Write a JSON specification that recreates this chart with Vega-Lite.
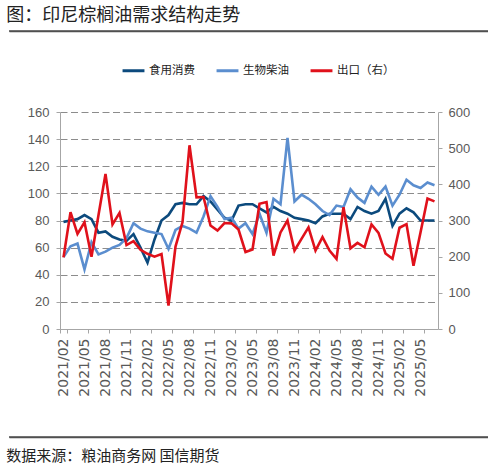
{
  "$schema": "https://vega.github.io/schema/vega-lite/v6.json",
  "background": "white",
  "padding": {"left": 5, "top": 6, "right": 3, "bottom": 0},
  "datasets": {
    "palm": [
      {"date": "2021/02", "食用消费": 79, "生物柴油": 53, "出口": 198},
      {"date": "2021/03", "食用消费": 80, "生物柴油": 61, "出口": 323},
      {"date": "2021/04", "食用消费": 81, "生物柴油": 63, "出口": 263},
      {"date": "2021/05", "食用消费": 84, "生物柴油": 44, "出口": 295},
      {"date": "2021/06", "食用消费": 81, "生物柴油": 64, "出口": 200},
      {"date": "2021/07", "食用消费": 71, "生物柴油": 55, "出口": 315},
      {"date": "2021/08", "食用消费": 72, "生物柴油": 57, "出口": 429},
      {"date": "2021/09", "食用消费": 68, "生物柴油": 60, "出口": 289},
      {"date": "2021/10", "食用消费": 66, "生物柴油": 62, "出口": 321},
      {"date": "2021/11", "食用消费": 65, "生物柴油": 67, "出口": 232},
      {"date": "2021/12", "食用消费": 70, "生物柴油": 78, "出口": 243},
      {"date": "2022/01", "食用消费": 60, "生物柴油": 74, "出口": 219},
      {"date": "2022/02", "食用消费": 49, "生物柴油": 72, "出口": 208},
      {"date": "2022/03", "食用消费": 66, "生物柴油": 71, "出口": 200},
      {"date": "2022/04", "食用消费": 80, "生物柴油": 70, "出口": 207},
      {"date": "2022/05", "食用消费": 84, "生物柴油": 59, "出口": 65},
      {"date": "2022/06", "食用消费": 92, "生物柴油": 73, "出口": 228},
      {"date": "2022/07", "食用消费": 93, "生物柴油": 76, "出口": 295},
      {"date": "2022/08", "食用消费": 92, "生物柴油": 74, "出口": 508},
      {"date": "2022/09", "食用消费": 92, "生物柴油": 71, "出口": 364},
      {"date": "2022/10", "食用消费": 98, "生物柴油": 83, "出口": 365},
      {"date": "2022/11", "食用消费": 94, "生物柴油": 98, "出口": 286},
      {"date": "2022/12", "食用消费": 88, "生物柴油": 90, "出口": 272},
      {"date": "2023/01", "食用消费": 82, "生物柴油": 81, "出口": 293},
      {"date": "2023/02", "食用消费": 80, "生物柴油": 82, "出口": 292},
      {"date": "2023/03", "食用消费": 91, "生物柴油": 74, "出口": 275},
      {"date": "2023/04", "食用消费": 92, "生物柴油": 78, "出口": 213},
      {"date": "2023/05", "食用消费": 92, "生物柴油": 70, "出口": 220},
      {"date": "2023/06", "食用消费": 89, "生物柴油": 85, "出口": 346},
      {"date": "2023/07", "食用消费": 86, "生物柴油": 71, "出口": 351},
      {"date": "2023/08", "食用消费": 90, "生物柴油": 96, "出口": 203},
      {"date": "2023/09", "食用消费": 87, "生物柴油": 92, "出口": 267},
      {"date": "2023/10", "食用消费": 85, "生物柴油": 141, "出口": 300},
      {"date": "2023/11", "食用消费": 82, "生物柴油": 94, "出口": 217},
      {"date": "2023/12", "食用消费": 81, "生物柴油": 99, "出口": 249},
      {"date": "2024/01", "食用消费": 80, "生物柴油": 96, "出口": 281},
      {"date": "2024/02", "食用消费": 78, "生物柴油": 92, "出口": 217},
      {"date": "2024/03", "食用消费": 83, "生物柴油": 87, "出口": 254},
      {"date": "2024/04", "食用消费": 85, "生物柴油": 84, "出口": 217},
      {"date": "2024/05", "食用消费": 85, "生物柴油": 91, "出口": 194},
      {"date": "2024/06", "食用消费": 85, "生物柴油": 90, "出口": 337},
      {"date": "2024/07", "食用消费": 81, "生物柴油": 103, "出口": 223},
      {"date": "2024/08", "食用消费": 90, "生物柴油": 97, "出口": 238},
      {"date": "2024/09", "食用消费": 87, "生物柴油": 93, "出口": 226},
      {"date": "2024/10", "食用消费": 85, "生物柴油": 105, "出口": 289},
      {"date": "2024/11", "食用消费": 87, "生物柴油": 99, "出口": 266},
      {"date": "2024/12", "食用消费": 96, "生物柴油": 105, "出口": 209},
      {"date": "2025/01", "食用消费": 76, "生物柴油": 91, "出口": 194},
      {"date": "2025/02", "食用消费": 85, "生物柴油": 99, "出口": 280},
      {"date": "2025/03", "食用消费": 89, "生物柴油": 110, "出口": 290},
      {"date": "2025/04", "食用消费": 86, "生物柴油": 106, "出口": 175},
      {"date": "2025/05", "食用消费": 80, "生物柴油": 104, "出口": 267},
      {"date": "2025/06", "食用消费": 80, "生物柴油": 108, "出口": 361},
      {"date": "2025/07", "食用消费": 80, "生物柴油": 106, "出口": 353}
    ]
  },
  "spacing": 81,
  "center": true,
  "bounds": "flush",
  "vconcat": [
    {
      "width": 480,
      "height": 10,
      "view": {"stroke": "#505050", "strokeWidth": 1.5, "strokeDash": [0, 490, 480, 10], "fill": null},
      "title": {
        "text": "图：印尼棕榈油需求结构走势",
        "anchor": "start",
        "offset": -4,
        "fontSize": 18,
        "fontWeight": "normal",
        "font": "Noto Sans CJK SC",
        "color": "#222222"
      },
      "data": {"values": [{"v": 0}]},
      "mark": {"type": "point", "opacity": 0},
      "encoding": {
        "x": {
          "field": "v",
          "type": "quantitative",
          "scale": {"domain": [0, 1]},
          "axis": {"orient": "bottom", "title": null, "labels": false, "ticks": false, "grid": false, "domain": true, "domainColor": "#505050", "domainWidth": 1.5}
        }
      }
    },
    {
      "width": 378,
      "height": 217,
      "view": {"stroke": null},
      "data": {"name": "palm"},
      "encoding": {
        "x": {
          "field": "date",
          "type": "ordinal",
          "sort": null,
          "scale": {"type": "band", "paddingInner": 0, "paddingOuter": 0},
          "axis": {
            "title": null,
            "values": ["2021/02", "2021/05", "2021/08", "2021/11", "2022/02", "2022/05", "2022/08", "2022/11", "2023/02", "2023/05", "2023/08", "2023/11", "2024/02", "2024/05", "2024/08", "2024/11", "2025/02", "2025/05"],
            "tickBand": "extent",
            "labelAngle": -90,
            "labelAlign": "right",
            "labelBaseline": "middle",
            "labelFont": "DejaVu Sans",
            "labelFontSize": 14,
            "labelColor": "#595959",
            "labelPadding": 5,
            "labelOverlap": false,
            "tickSize": 4,
            "tickColor": "#a6a6a6",
            "domainColor": "#a6a6a6",
            "grid": false
          }
        }
      },
      "layer": [
        {
          "transform": [{"fold": ["食用消费", "生物柴油"], "as": ["series", "value"]}],
          "mark": {"type": "line", "strokeWidth": 2.6},
          "encoding": {
            "y": {
              "field": "value",
              "type": "quantitative",
              "scale": {"domain": [0, 160]},
              "axis": {
                "title": null,
                "values": [0, 20, 40, 60, 80, 100, 120, 140, 160],
                "grid": true,
                "gridDash": [7, 3.5],
                "gridColor": "#8c8c8c",
                "labelFont": "Liberation Sans",
                "labelFontSize": 13,
                "labelColor": "#595959",
                "labelPadding": 7,
                "tickSize": 4,
                "tickColor": "#a6a6a6",
                "domainColor": "#a6a6a6"
              }
            },
            "color": {
              "field": "series",
              "type": "nominal",
              "scale": {
                "domain": ["食用消费", "生物柴油", "出口（右）"],
                "range": ["#0c4a7d", "#5b8ecf", "#e0111b"]
              },
              "legend": {
                "orient": "none",
                "legendX": 112,
                "legendY": 37,
                "direction": "horizontal",
                "title": null,
                "symbolType": "stroke",
                "symbolSize": 480,
                "symbolStrokeWidth": 3,
                "labelFont": "Noto Sans CJK SC",
                "labelFontSize": 11.5,
                "labelColor": "#222222",
                "labelOffset": 3,
                "columnPadding": 15
              }
            }
          }
        },
        {
          "mark": {"type": "line", "strokeWidth": 2.6},
          "encoding": {
            "y": {
              "field": "出口",
              "type": "quantitative",
              "scale": {"domain": [0, 600]},
              "axis": {
                "orient": "right",
                "title": null,
                "values": [0, 100, 200, 300, 400, 500, 600],
                "grid": false,
                "labelFont": "Liberation Sans",
                "labelFontSize": 13,
                "labelColor": "#595959",
                "labelPadding": 6,
                "tickSize": 4,
                "tickColor": "#a6a6a6",
                "domainColor": "#a6a6a6"
              }
            },
            "color": {"datum": "出口（右）"}
          }
        }
      ],
      "resolve": {"scale": {"y": "independent"}}
    },
    {
      "width": 480,
      "height": 27,
      "view": {"stroke": "#505050", "strokeWidth": 1.5, "strokeDash": [0, 507, 480, 27], "fill": null},
      "title": {
        "text": "数据来源：粮油商务网 国信期货",
        "orient": "bottom",
        "anchor": "start",
        "offset": 12,
        "fontSize": 15,
        "fontWeight": "normal",
        "font": "Noto Sans CJK SC",
        "color": "#222222"
      },
      "data": {"values": [{"v": 0}]},
      "mark": {"type": "point", "opacity": 0},
      "encoding": {
        "x": {
          "field": "v",
          "type": "quantitative",
          "scale": {"domain": [0, 1]},
          "axis": {"orient": "bottom", "title": null, "labels": false, "ticks": false, "grid": false, "domain": true, "domainColor": "#505050", "domainWidth": 1.5}
        }
      }
    }
  ]
}
